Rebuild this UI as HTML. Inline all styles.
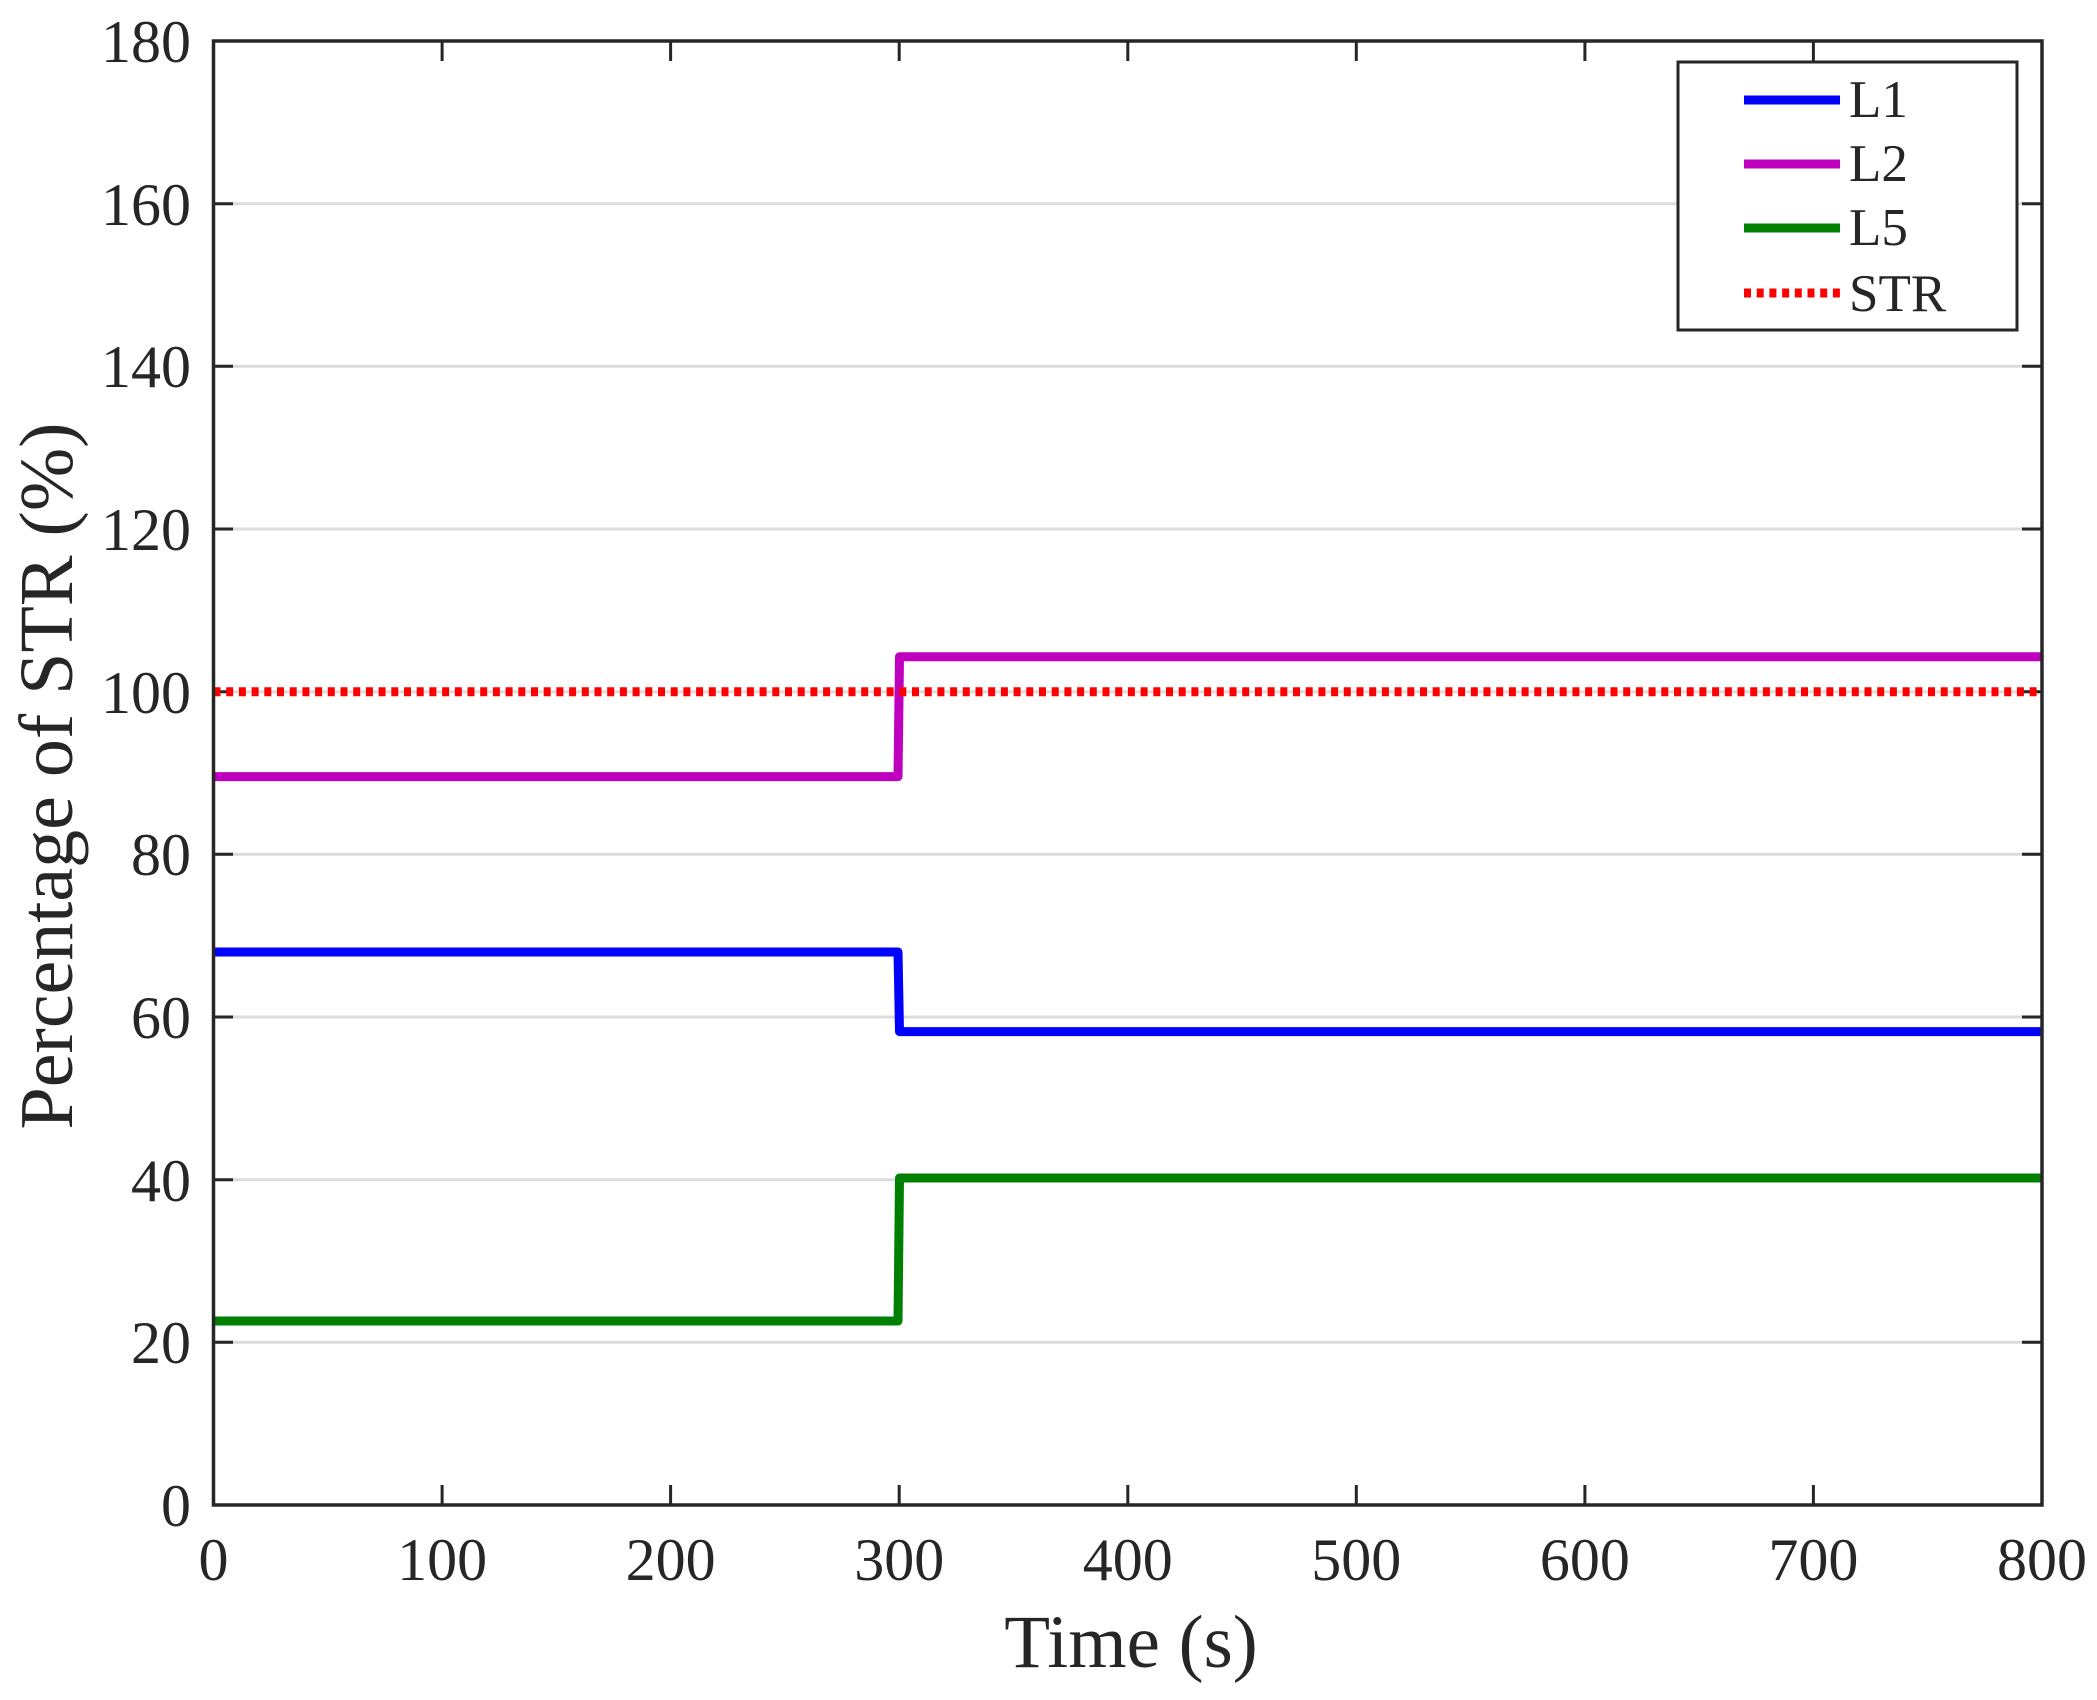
<!DOCTYPE html>
<html><head><meta charset="utf-8"><style>
html,body{margin:0;padding:0;background:#fff;}
svg{display:block;}
text{font-family:"Liberation Serif",serif;fill:#262626;}
</style></head><body>
<svg width="2097" height="1700" viewBox="0 0 2097 1700" xmlns="http://www.w3.org/2000/svg">
<rect width="2097" height="1700" fill="#fff"/>
<g stroke="#dcdcdc" stroke-width="3">
<line x1="213.5" x2="2042" y1="1342.3" y2="1342.3"/>
<line x1="213.5" x2="2042" y1="1179.7" y2="1179.7"/>
<line x1="213.5" x2="2042" y1="1017" y2="1017"/>
<line x1="213.5" x2="2042" y1="854.3" y2="854.3"/>
<line x1="213.5" x2="2042" y1="691.7" y2="691.7"/>
<line x1="213.5" x2="2042" y1="529" y2="529"/>
<line x1="213.5" x2="2042" y1="366.3" y2="366.3"/>
<line x1="213.5" x2="2042" y1="203.7" y2="203.7"/>
</g>
<g stroke="#262626" stroke-width="3">
<line x1="213.5" x2="233" y1="1342.3" y2="1342.3"/><line x1="2042" x2="2022" y1="1342.3" y2="1342.3"/>
<line x1="213.5" x2="233" y1="1179.7" y2="1179.7"/><line x1="2042" x2="2022" y1="1179.7" y2="1179.7"/>
<line x1="213.5" x2="233" y1="1017" y2="1017"/><line x1="2042" x2="2022" y1="1017" y2="1017"/>
<line x1="213.5" x2="233" y1="854.3" y2="854.3"/><line x1="2042" x2="2022" y1="854.3" y2="854.3"/>
<line x1="213.5" x2="233" y1="691.7" y2="691.7"/><line x1="2042" x2="2022" y1="691.7" y2="691.7"/>
<line x1="213.5" x2="233" y1="529" y2="529"/><line x1="2042" x2="2022" y1="529" y2="529"/>
<line x1="213.5" x2="233" y1="366.3" y2="366.3"/><line x1="2042" x2="2022" y1="366.3" y2="366.3"/>
<line x1="213.5" x2="233" y1="203.7" y2="203.7"/><line x1="2042" x2="2022" y1="203.7" y2="203.7"/>
<line x1="442.1" x2="442.1" y1="1505" y2="1485"/><line x1="442.1" x2="442.1" y1="41" y2="61"/>
<line x1="670.6" x2="670.6" y1="1505" y2="1485"/><line x1="670.6" x2="670.6" y1="41" y2="61"/>
<line x1="899.2" x2="899.2" y1="1505" y2="1485"/><line x1="899.2" x2="899.2" y1="41" y2="61"/>
<line x1="1127.8" x2="1127.8" y1="1505" y2="1485"/><line x1="1127.8" x2="1127.8" y1="41" y2="61"/>
<line x1="1356.3" x2="1356.3" y1="1505" y2="1485"/><line x1="1356.3" x2="1356.3" y1="41" y2="61"/>
<line x1="1584.9" x2="1584.9" y1="1505" y2="1485"/><line x1="1584.9" x2="1584.9" y1="41" y2="61"/>
<line x1="1813.4" x2="1813.4" y1="1505" y2="1485"/><line x1="1813.4" x2="1813.4" y1="41" y2="61"/>
</g>
<g fill="none" stroke-width="9" stroke-linejoin="round">
<polyline stroke="#0000ff" points="213.5,952 898,952 899.5,1031.6 2042,1031.6"/>
<polyline stroke="#bf00bf" points="213.5,776.6 898,776.6 899.5,656.7 2042,656.7"/>
<polyline stroke="#008000" points="213.5,1321 898,1321 899.5,1178 2042,1178"/>
<line stroke="#ff0000" x1="213.5" x2="2042" y1="691.7" y2="691.7" stroke-dasharray="7 5.7"/>
</g>
<rect x="213.5" y="41" width="1828.5" height="1464" fill="none" stroke="#262626" stroke-width="3.5"/>
<g font-size="60" text-anchor="end">
<text x="191" y="1526">0</text>
<text x="191" y="1363">20</text>
<text x="191" y="1201">40</text>
<text x="191" y="1038">60</text>
<text x="191" y="875">80</text>
<text x="191" y="713">100</text>
<text x="191" y="550">120</text>
<text x="191" y="387">140</text>
<text x="191" y="225">160</text>
<text x="191" y="62">180</text>
</g>
<g font-size="60" text-anchor="middle">
<text x="213.5" y="1580">0</text>
<text x="442.1" y="1580">100</text>
<text x="670.6" y="1580">200</text>
<text x="899.2" y="1580">300</text>
<text x="1127.8" y="1580">400</text>
<text x="1356.3" y="1580">500</text>
<text x="1584.9" y="1580">600</text>
<text x="1813.4" y="1580">700</text>
<text x="2042" y="1580">800</text>
</g>
<text x="1131" y="1667" font-size="75" text-anchor="middle" fill="#000">Time (s)</text>
<text transform="translate(72,776) rotate(-90)" font-size="76" text-anchor="middle" fill="#000">Percentage of STR (%)</text>
<rect x="1678" y="62" width="339" height="268" fill="#fff" stroke="#262626" stroke-width="3"/>
<g stroke-width="9">
<line x1="1744" x2="1840" y1="100" y2="100" stroke="#0000ff"/>
<line x1="1744" x2="1840" y1="164" y2="164" stroke="#bf00bf"/>
<line x1="1744" x2="1840" y1="228" y2="228" stroke="#008000"/>
<line x1="1744" x2="1840" y1="293" y2="293" stroke="#ff0000" stroke-dasharray="7 5.7"/>
</g>
<g font-size="53" fill="#000">
<text x="1849" y="117" fill="#000">L1</text>
<text x="1849" y="181" fill="#000">L2</text>
<text x="1849" y="245" fill="#000">L5</text>
<text x="1849" y="311" fill="#000">STR</text>
</g>
</svg>
</body></html>
